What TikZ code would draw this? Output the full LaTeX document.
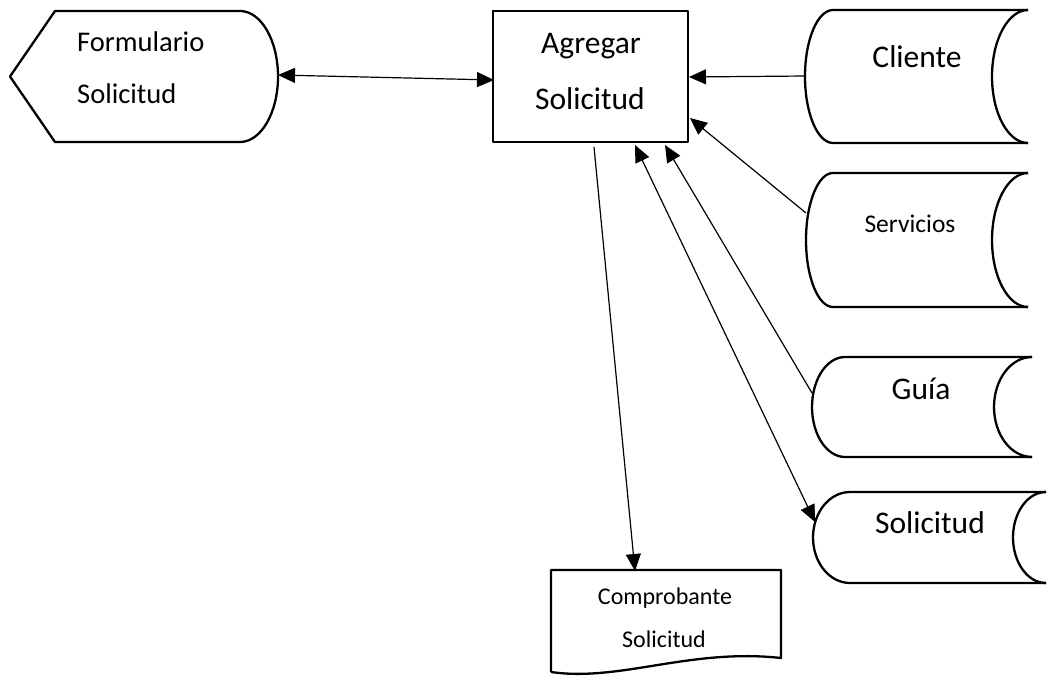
\documentclass[tikz,border=0pt]{standalone}
\usepackage{fontspec}
\setmainfont{Carlito}
\usetikzlibrary{arrows.meta}
\begin{document}
\begin{tikzpicture}[x=1pt,y=-1pt,
  shapeline/.style={line width=2.3pt, line join=round},
  conn/.style={line width=1.2pt, -{Triangle[length=17pt,width=15pt]}},
  bconn/.style={line width=1.2pt, {Triangle[length=17pt,width=15pt]}-{Triangle[length=17pt,width=15pt]}},
  bigtxt/.style={font=\fontsize{31.5}{36}\selectfont, inner sep=0pt},
  midtxt/.style={font=\fontsize{28.5}{34}\selectfont, inner sep=0pt},
  servtxt/.style={font=\fontsize{25.5}{30}\selectfont, inner sep=0pt},
  smalltxt/.style={font=\fontsize{24}{29}\selectfont, inner sep=0pt}]
\useasboundingbox (0,0) rectangle (1047,677);

% Formulario Solicitud (display shape)
\draw[shapeline] (55,11) -- (240,11) arc[start angle=-90,end angle=90,x radius=38,y radius=65.5] -- (55,142) -- (10,76.5) -- cycle;
\node[midtxt, anchor=base west] (form1) at (77,52) {Formulario};
\node[midtxt, anchor=base west] (form2) at (77,103) {Solicitud};
\coordinate (formR) at (278,75);

% Agregar Solicitud (process)
\draw[shapeline] (493,11) rectangle (688,142);
\node[bigtxt, anchor=base] (agr1) at (591,54) {Agregar};
\node[bigtxt, anchor=base] (agr2) at (590,110) {Solicitud};
\coordinate (agrL) at (494,80);
\coordinate (agrR) at (689,77);
\coordinate (agrRB) at (690,118);
\coordinate (agrB1) at (594,147);
\coordinate (agrB2) at (635,145);
\coordinate (agrB3) at (665,145);

% Cliente
\draw[shapeline] (1028,10) -- (833,10) arc[start angle=-90,end angle=-270,x radius=28,y radius=66.5] -- (1028,143);
\draw[shapeline] (1028,10) arc[start angle=-90,end angle=-270,x radius=36,y radius=66.5];
\node[bigtxt, anchor=base] (cli) at (917,67) {Cliente};
\coordinate (cliL) at (806,76);

% Servicios
\draw[shapeline] (1028,173) -- (833,173) arc[start angle=-90,end angle=-270,x radius=27,y radius=67] -- (1028,307);
\draw[shapeline] (1028,173) arc[start angle=-90,end angle=-270,x radius=36,y radius=67];
\node[servtxt, anchor=base] (ser) at (910,232) {Servicios};
\coordinate (serL) at (806,213);

% Guia
\draw[shapeline] (1032,357) -- (845,357) arc[start angle=-90,end angle=-270,x radius=33,y radius=50] -- (1032,457);
\draw[shapeline] (1032,357) arc[start angle=-90,end angle=-270,x radius=38,y radius=50];
\node[bigtxt, anchor=base] (gui) at (921,399) {Guía};
\coordinate (guiL) at (812,393);

% Solicitud (storage)
\draw[shapeline] (1046,492) -- (850,492) arc[start angle=-90,end angle=-270,x radius=37,y radius=45.5] -- (1046,583);
\draw[shapeline] (1046,492) arc[start angle=-90,end angle=-270,x radius=33,y radius=45.5];
\node[bigtxt, anchor=base] (sol) at (930,533) {Solicitud};
\coordinate (solL) at (815,522);

% Comprobante Solicitud (document)
\draw[shapeline] (551,672) -- (551,570) -- (781,570) -- (781,658) .. controls (690,648) and (620,682) .. (551,672);
\node[smalltxt, anchor=base] (comp1) at (665,604) {Comprobante};
\node[smalltxt, anchor=base] (comp2) at (664,647) {Solicitud};
\coordinate (compT) at (635,571);

% connectors
\draw[bconn] (formR) -- (agrL);
\draw[conn] (cliL) -- (agrR);
\draw[conn] (serL) -- (agrRB);
\draw[conn] (guiL) -- (agrB3);
\draw[bconn] (agrB2) -- (solL);
\draw[conn] (agrB1) -- (compT);
\end{tikzpicture}
\end{document}
